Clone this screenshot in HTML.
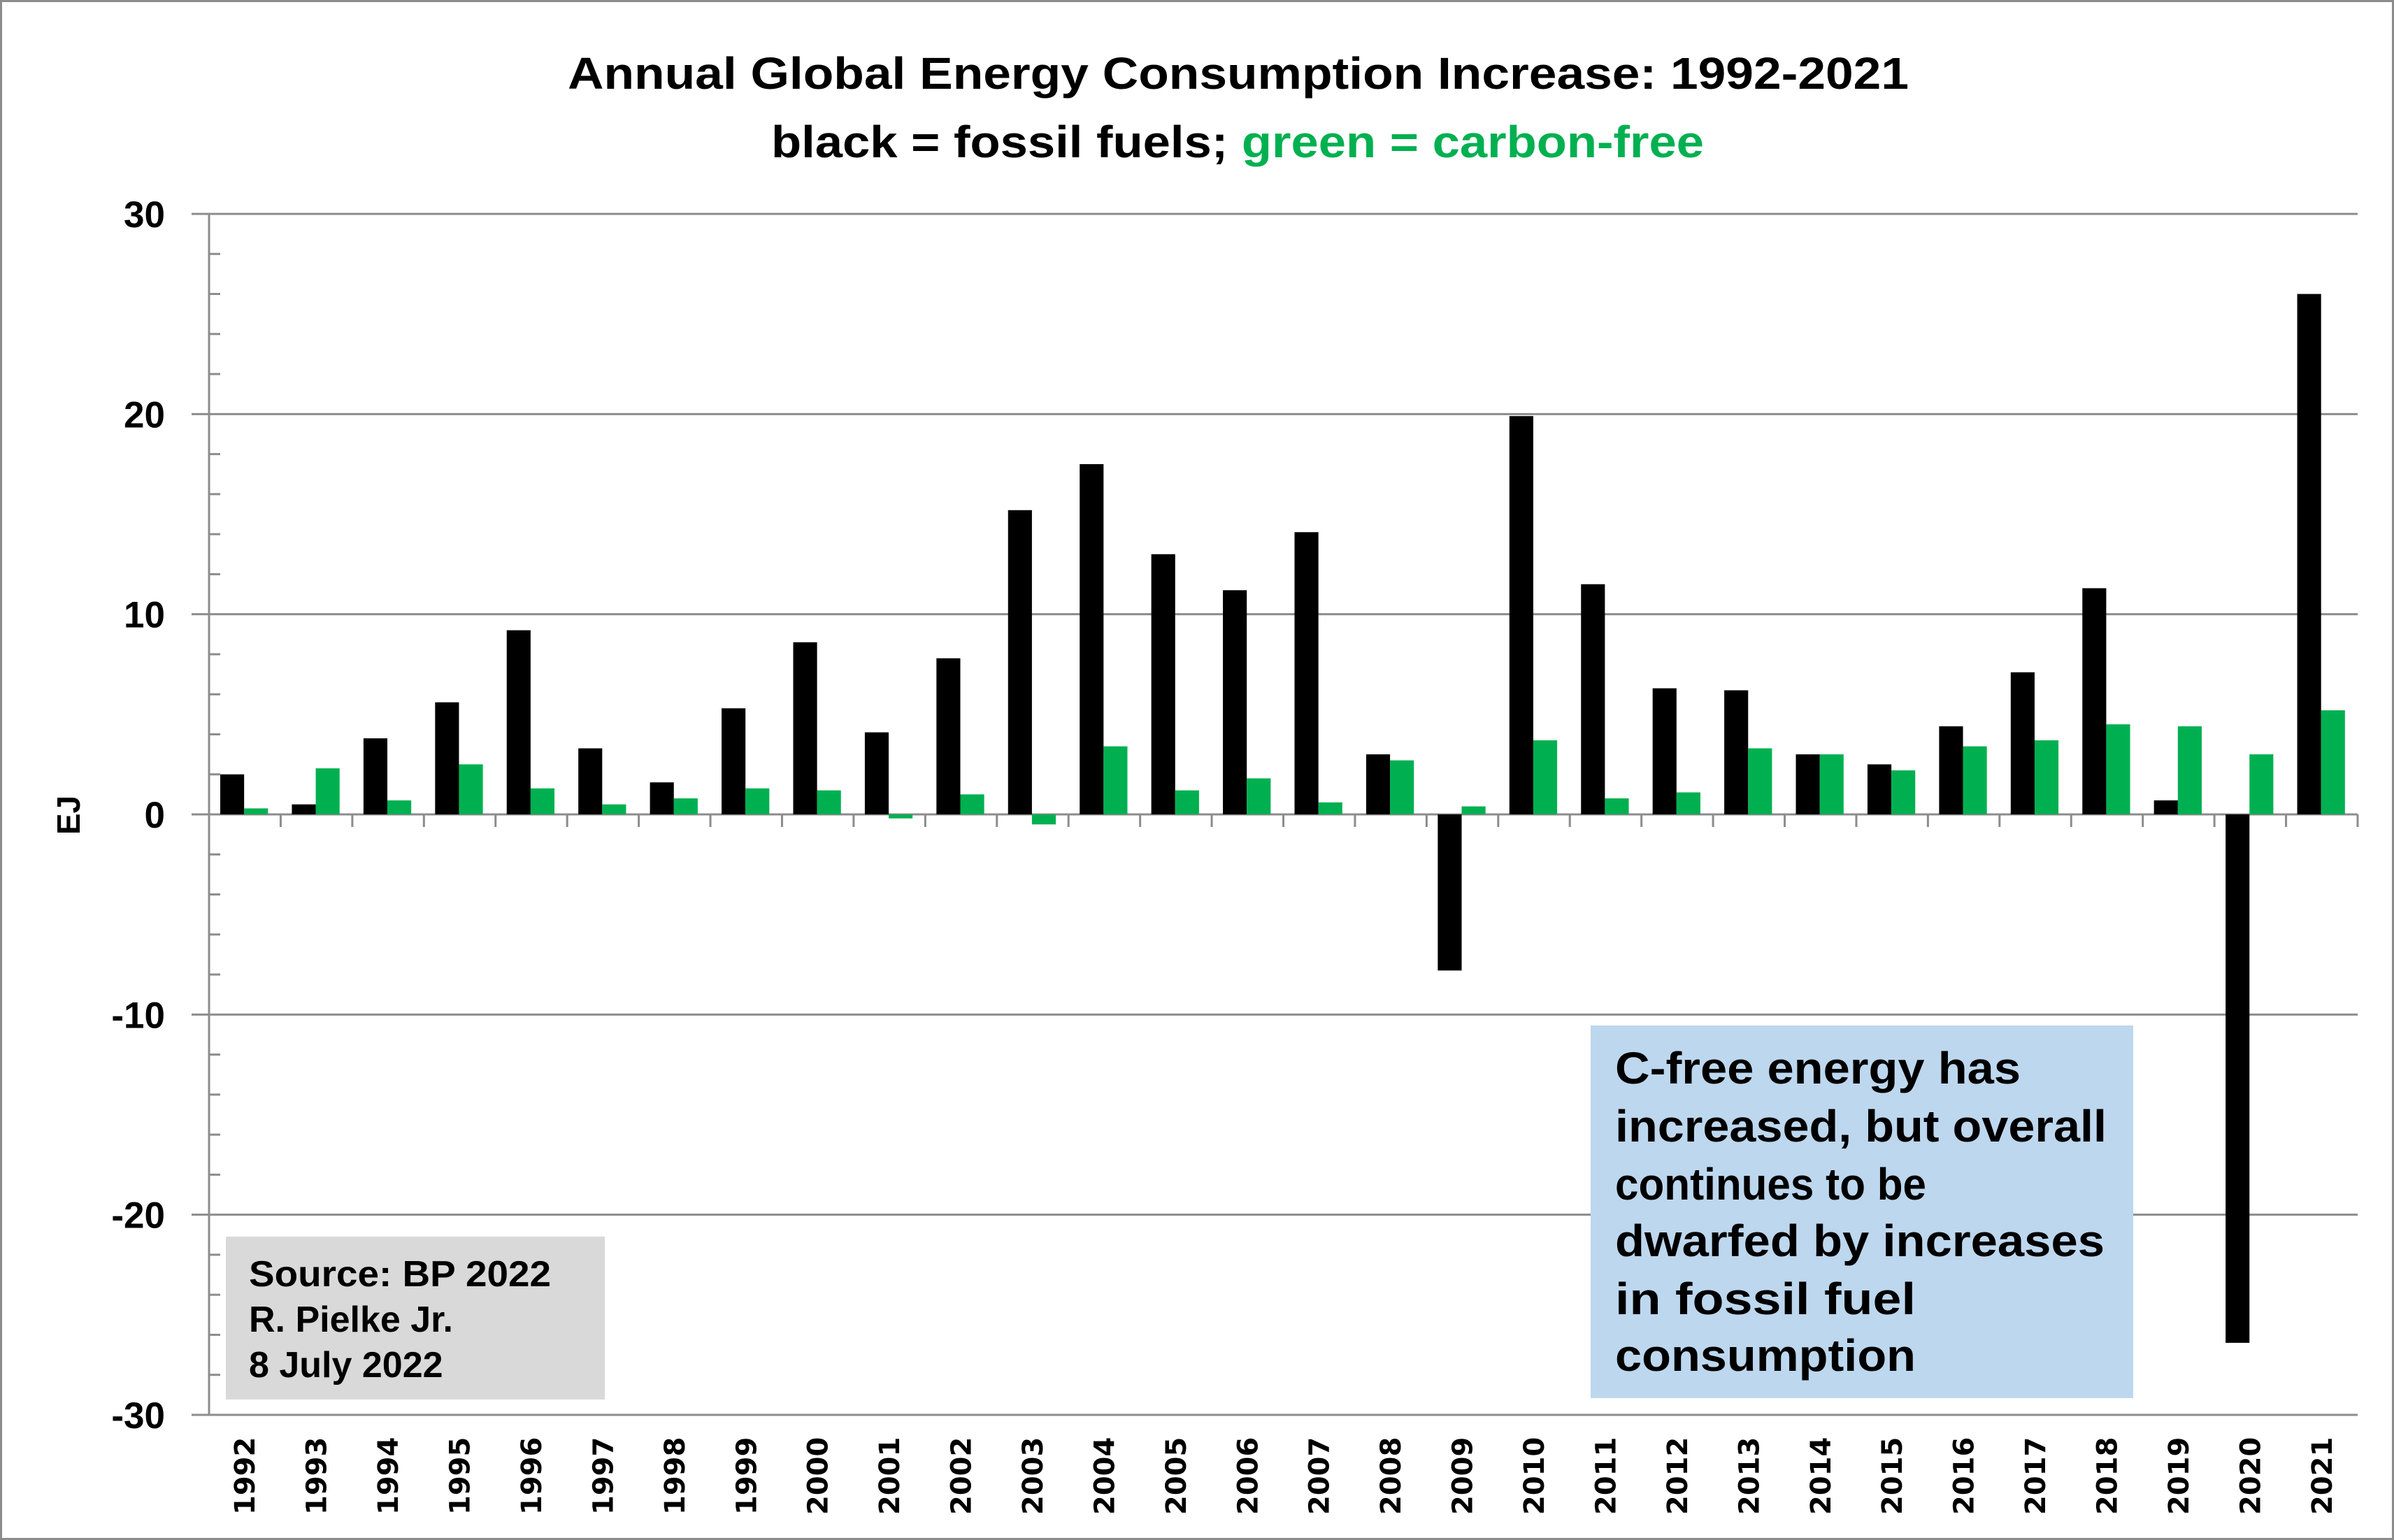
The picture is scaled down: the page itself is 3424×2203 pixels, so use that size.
<!DOCTYPE html>
<html><head><meta charset="utf-8"><style>
html,body{margin:0;padding:0;background:#fff}
svg{display:block}
text{font-family:"Liberation Sans",Arial,sans-serif;font-weight:bold}
</style></head><body>
<svg id="chart" width="3424" height="2203" viewBox="0 0 3424 2203" xmlns="http://www.w3.org/2000/svg">
<rect x="1.5" y="1.5" width="3421" height="2200" fill="#fff" stroke="#8c8c8c" stroke-width="3"/>
<text x="1771" y="127" font-size="64" text-anchor="middle" textLength="1918" lengthAdjust="spacingAndGlyphs">Annual Global Energy Consumption Increase: 1992-2021</text>
<text x="1770" y="225" font-size="64" text-anchor="middle" textLength="1334" lengthAdjust="spacingAndGlyphs"><tspan fill="#000">black = fossil fuels; </tspan><tspan fill="#00b050">green = carbon-free</tspan></text>
<g id="grid"></g>
<g id="bars"></g>
<g id="axes"></g>
<text transform="translate(114,1166) rotate(-90)" font-size="46" text-anchor="middle">EJ</text>
<g>
<rect x="323" y="1769" width="542" height="233" fill="#d9d9d9"/>
<text x="356" y="1840" font-size="52" textLength="432" lengthAdjust="spacingAndGlyphs">Source: BP 2022</text>
<text x="356" y="1905" font-size="52">R. Pielke Jr.</text>
<text x="356" y="1970" font-size="52">8 July 2022</text>
</g>
<g>
<rect x="2275" y="1467" width="776" height="533" fill="#bdd7ee"/>
<text x="2310" y="1550" font-size="64" textLength="580" lengthAdjust="spacingAndGlyphs">C-free energy has</text>
<text x="2310" y="1633" font-size="64" textLength="703" lengthAdjust="spacingAndGlyphs">increased, but overall</text>
<text x="2310" y="1716" font-size="64" textLength="445" lengthAdjust="spacingAndGlyphs">continues to be</text>
<text x="2310" y="1797" font-size="64" textLength="700" lengthAdjust="spacingAndGlyphs">dwarfed by increases</text>
<text x="2310" y="1880" font-size="64" textLength="430" lengthAdjust="spacingAndGlyphs">in fossil fuel</text>
<text x="2310" y="1961" font-size="64" textLength="430" lengthAdjust="spacingAndGlyphs">consumption</text>
</g>
</svg>
<script>
const years = [1992,1993,1994,1995,1996,1997,1998,1999,2000,2001,2002,2003,2004,2005,2006,2007,2008,2009,2010,2011,2012,2013,2014,2015,2016,2017,2018,2019,2020,2021];
const fossil = [2.0,0.5,3.8,5.6,9.2,3.3,1.6,5.3,8.6,4.1,7.8,15.2,17.5,13.0,11.2,14.1,3.0,-7.8,19.9,11.5,6.3,6.2,3.0,2.5,4.4,7.1,11.3,0.7,-26.4,26.0];
const carbonFree = [0.3,2.3,0.7,2.5,1.3,0.5,0.8,1.3,1.2,-0.2,1.0,-0.5,3.4,1.2,1.8,0.6,2.7,0.4,3.7,0.8,1.1,3.3,3.0,2.2,3.4,3.7,4.5,4.4,3.0,5.2];
const yTicks = [30,20,10,0,-10,-20,-30];
const yMin = -30, yMax = 30;

const NS = "http://www.w3.org/2000/svg";
const L = 299, R = 3372, T = 306, B = 2024;
const y = v => T + (yMax - v) / (yMax - yMin) * (B - T);
const catW = (R - L) / years.length;
const x = i => L + i * catW;
function mk(tag, attrs, parent, txt){
  const e = document.createElementNS(NS, tag);
  for (const k in attrs) e.setAttribute(k, attrs[k]);
  if (txt !== undefined) e.textContent = txt;
  parent.appendChild(e); return e;
}
const grid = document.getElementById('grid');
const bars = document.getElementById('bars');
const axes = document.getElementById('axes');

yTicks.forEach(v => {
  const g = mk('line', {x1: L-25, x2: R, y1: y(v), y2: y(v), stroke: '#8c8c8c', 'stroke-width': 3}, grid);
  
  
  const t = mk('text', {x: 236, y: y(v) + 19, 'font-size': 53, 'text-anchor': 'end'}, axes, String(v));
  
  
});
for (let v = yMin; v <= yMax; v += 2) {
  if (v % 10 === 0) continue;
  const m = mk('line', {x1: L, x2: L+16, y1: y(v), y2: y(v), stroke: '#8c8c8c', 'stroke-width': 3}, axes);
  
  
}
const ya = mk('line', {x1: L, x2: L, y1: T, y2: B, stroke: '#8c8c8c', 'stroke-width': 3}, axes);



const bw = catW / 3;
years.forEach((yr, i) => {
  const fv = fossil[i], cv = carbonFree[i];
  const b1 = mk('rect', {x: x(i) + 16, y: Math.min(y(fv), y(0)), width: bw, height: Math.abs(y(fv) - y(0)), fill: '#000'}, bars);
  
  
  const b2 = mk('rect', {x: x(i) + 16 + bw, y: Math.min(y(cv), y(0)), width: bw, height: Math.abs(y(cv) - y(0)), fill: '#00b050'}, bars);
  
  
  const cx = x(i) + catW / 2;
  const t = mk('text', {transform: `translate(${cx + 14},2167) rotate(-90)`, 'font-size': 40, style: 'font-family:"DejaVu Sans",sans-serif;font-weight:bold'}, axes, String(yr));
  
  
});
for (let i = 1; i <= years.length; i++) {
  const tk = mk('line', {x1: x(i), x2: x(i), y1: y(0), y2: y(0) + 18, stroke: '#8c8c8c', 'stroke-width': 3}, axes);
  
  
}
</script>
</body></html>
